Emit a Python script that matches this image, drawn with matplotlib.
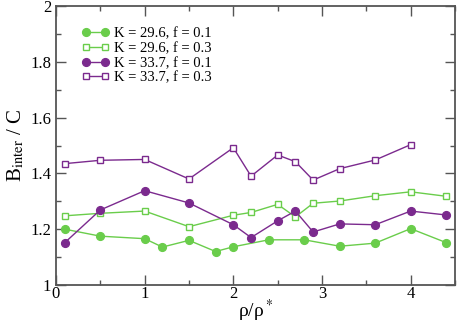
import matplotlib
matplotlib.use("Agg")
import matplotlib.pyplot as plt
from matplotlib.ticker import MultipleLocator

GREEN = "#6ACD4B"
PURPLE = "#7B2A8E"

# K = 29.6, f = 0.1
x_g1 = [0.1, 0.5, 1.0, 1.2, 1.5, 1.8, 2.0, 2.4, 2.8, 3.2, 3.6, 4.0, 4.4]
y_g1 = [1.200, 1.175, 1.166, 1.136, 1.160, 1.120, 1.137, 1.162, 1.162, 1.139, 1.150, 1.202, 1.152]
# K = 29.6, f = 0.3
x_g3 = [0.1, 0.5, 1.0, 1.5, 2.0, 2.2, 2.5, 2.7, 2.9, 3.2, 3.6, 4.0, 4.4]
y_g3 = [1.248, 1.257, 1.265, 1.209, 1.250, 1.260, 1.289, 1.244, 1.293, 1.301, 1.320, 1.334, 1.318]
# K = 33.7, f = 0.1
x_p1 = [0.1, 0.5, 1.0, 1.5, 2.0, 2.2, 2.5, 2.7, 2.9, 3.2, 3.6, 4.0, 4.4]
y_p1 = [1.152, 1.269, 1.338, 1.294, 1.216, 1.170, 1.230, 1.265, 1.190, 1.219, 1.216, 1.265, 1.251]
# K = 33.7, f = 0.3
x_p3 = [0.1, 0.5, 1.0, 1.5, 2.0, 2.2, 2.5, 2.7, 2.9, 3.2, 3.6, 4.0]
y_p3 = [1.435, 1.447, 1.450, 1.380, 1.492, 1.390, 1.466, 1.442, 1.376, 1.417, 1.448, 1.503]

plt.rcParams.update({
    "font.family": "serif",
    "font.serif": ["Liberation Serif", "DejaVu Serif"],
    "mathtext.fontset": "stix",
    "font.size": 12,
})

fig = plt.figure(figsize=(4.57, 3.23), dpi=100)
ax = fig.add_axes([56 / 457, 1 - 285 / 323, 399 / 457, 279 / 323])

ax.plot(x_g1, y_g1, "-o", color=GREEN, lw=1.0, ms=5.6, label="K = 29.6, f = 0.1")
ax.plot(x_g3, y_g3, "-s", color=GREEN, mfc="white", mew=1.0, lw=1.0, ms=5.0,
        label="K = 29.6, f = 0.3")
ax.plot(x_p1, y_p1, "-o", color=PURPLE, lw=1.0, ms=5.6, label="K = 33.7, f = 0.1")
ax.plot(x_p3, y_p3, "-s", color=PURPLE, mfc="white", mew=1.0, lw=1.0, ms=5.0,
        label="K = 33.7, f = 0.3")

ax.set_xlim(0, 4.5)
ax.set_ylim(1, 2)
ax.xaxis.set_major_locator(MultipleLocator(1))
ax.xaxis.set_minor_locator(MultipleLocator(0.5))
ax.yaxis.set_major_locator(MultipleLocator(0.2))
ax.yaxis.set_minor_locator(MultipleLocator(0.1))
ax.yaxis.set_major_formatter(plt.FuncFormatter(lambda v, p: f"{v:g}"))
ax.xaxis.set_major_formatter(plt.FuncFormatter(lambda v, p: f"{v:g}"))
ax.tick_params(which="both", direction="in", top=True, right=True,
               color="#555555", labelsize=12, width=1.0)
ax.tick_params(which="major", length=7)
ax.tick_params(which="minor", length=3.5)
ax.tick_params(axis="x", pad=1)
for s in ax.spines.values():
    s.set_color("#555555")
    s.set_linewidth(1.3)

ax.set_xlabel("ρ/ρ$^*$", fontsize=14, labelpad=-3)
ax.set_ylabel(r"B$_{\rm inter}$ / C", fontsize=15, labelpad=3)

ax.legend(loc="upper left", bbox_to_anchor=(0.05, 0.945), frameon=False,
          numpoints=2, fontsize=10.5, handlelength=1.9, handletextpad=0.3,
          labelspacing=0.1, borderaxespad=0)

fig.savefig("out.png", dpi=100, facecolor="white")
